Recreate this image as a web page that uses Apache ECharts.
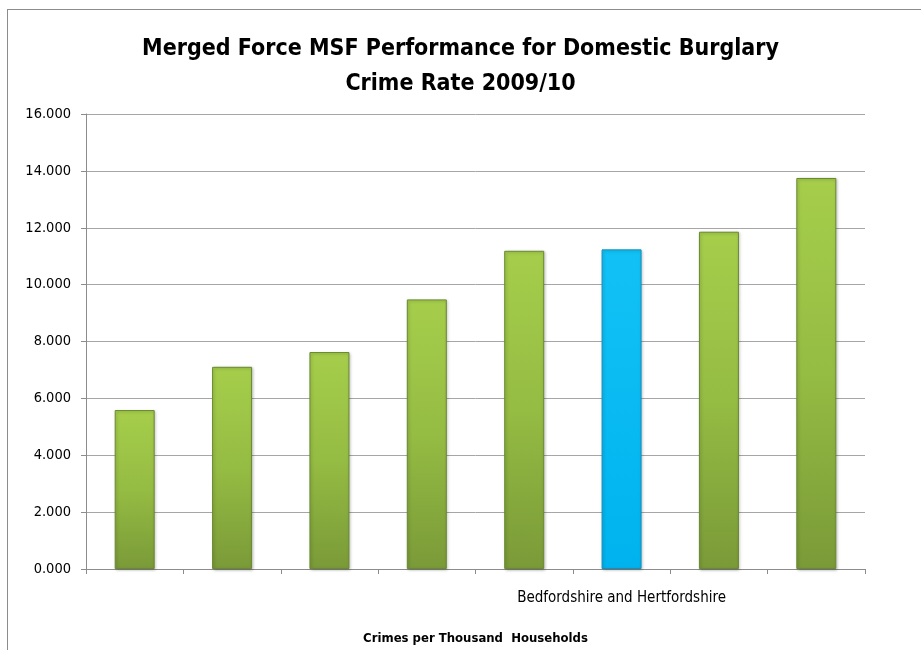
<!DOCTYPE html>
<html>
<head>
<meta charset="utf-8">
<title>Merged Force MSF Performance for Domestic Burglary</title>
<script src="https://cdn.jsdelivr.net/npm/echarts@6/dist/echarts.min.js"></script>
<style>
  html, body { margin: 0; padding: 0; background: #fff; }
  #frame {
    position: absolute; left: 7px; top: 9px; width: 914px; height: 641px;
    border-top: 1px solid #8c8c8c; border-left: 1px solid #8c8c8c;
  }
  #chart { position: absolute; left: 0; top: 0; width: 921px; height: 650px; }
</style>
</head>
<body>
<div id="frame"></div>
<div id="chart"></div>
<script>
// Forces in the most similar group, ordered by crime rate
const categories = ['', '', '', '', '', 'Bedfordshire and Hertfordshire', '', ''];
const crimeRates = [5.59, 7.11, 7.63, 9.48, 11.19, 11.24, 11.86, 13.75];
const highlightForce = 'Bedfordshire and Hertfordshire';
const yTicks = { min: 0, max: 16, interval: 2 };

const font = "'Liberation Sans Narrow', 'DejaVu Sans Condensed', 'Liberation Sans', sans-serif";

const greenFill = new echarts.graphic.LinearGradient(0, 0, 0, 1, [
  { offset: 0, color: '#a6ce4b' },
  { offset: 0.5, color: '#95bc43' },
  { offset: 1, color: '#7a9a38' }
]);
const blueFill = new echarts.graphic.LinearGradient(0, 0, 0, 1, [
  { offset: 0, color: '#12c2f6' },
  { offset: 1, color: '#00b3ee' }
]);

const chart = echarts.init(document.getElementById('chart'), null, { renderer: 'canvas' });
chart.setOption({
  backgroundColor: 'transparent',
  animation: false,
  title: {
    text: 'Merged Force MSF Performance for Domestic Burglary\nCrime Rate 2009/10',
    left: 'center',
    top: 27,
    textStyle: { fontFamily: font, fontWeight: 'bold', fontSize: 23, lineHeight: 35, color: '#000' }
  },
  grid: { left: 86, right: 56, top: 114, bottom: 81, containLabel: false },
  xAxis: {
    type: 'category',
    data: categories,
    boundaryGap: true,
    name: 'Crimes per Thousand  Households',
    nameLocation: 'middle',
    nameGap: 63,
    nameTextStyle: { fontFamily: font, fontWeight: 'bold', fontSize: 13, color: '#000' },
    axisLine: { lineStyle: { color: '#8c8c8c', width: 1 } },
    axisTick: { show: true, interval: 0, length: 5, lineStyle: { color: '#8c8c8c' } },
    axisLabel: { interval: 0, margin: 22, fontFamily: font, fontSize: 15, color: '#000' }
  },
  yAxis: {
    type: 'value',
    min: yTicks.min,
    max: yTicks.max,
    interval: yTicks.interval,
    axisLine: { show: true, lineStyle: { color: '#8c8c8c', width: 1 } },
    axisTick: { show: true, length: 5, lineStyle: { color: '#8c8c8c' } },
    axisLabel: {
      margin: 15, fontFamily: font, fontSize: 14.5, color: '#000',
      formatter: v => v.toFixed(3)
    },
    splitLine: { lineStyle: { color: '#a6a6a6', width: 1 } }
  },
  series: [{
    type: 'bar',
    barWidth: 40,
    data: crimeRates.map((v, i) => {
      const isHighlight = categories[i] === highlightForce;
      return {
        value: v,
        itemStyle: {
          color: isHighlight ? blueFill : greenFill,
          borderColor: isHighlight ? '#1490c0' : '#6a8a30',
          borderWidth: 1,
          shadowColor: 'rgba(0,0,0,0.25)',
          shadowBlur: 3,
          shadowOffsetX: 1,
          shadowOffsetY: 1
        }
      };
    })
  }]
});
</script>
</body>
</html>
